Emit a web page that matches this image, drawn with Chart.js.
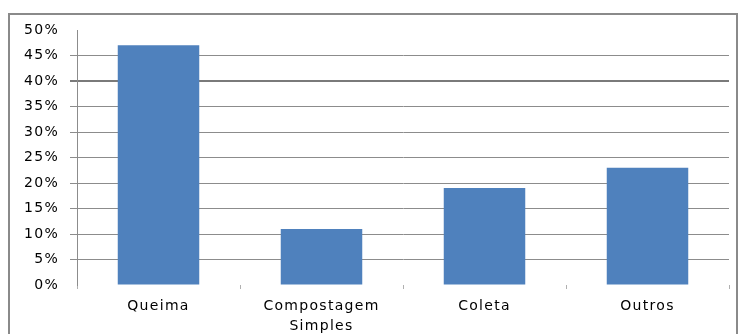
<!DOCTYPE html>
<html lang="pt">
  <head>
    <meta charset="UTF-8" />
    <title>Destino do lixo</title>
    <script src="https://cdn.jsdelivr.net/npm/chart.js"></script>
    <style>
      html, body { margin: 0; padding: 0; background: #fff; }
      #wrap { position: relative; width: 742px; height: 334px; overflow: hidden; }
      #frame {
        position: absolute; left: 8px; top: 13px; width: 730px; height: 340px;
        border: 2px solid #8a8a8a; box-sizing: border-box;
      }
      canvas { position: absolute; left: 0; top: 0; }
    </style>
  </head>
  <body>
    <div id="wrap">
      <div id="frame"></div>
      <canvas id="chart" width="742" height="334"></canvas>
    </div>

    <script>
      const categories = ["Queima", ["Compostagem", "Simples"], "Coleta", "Outros"];
      const values = [47, 11, 19, 23];
      const yTicks = [0, 5, 10, 15, 20, 25, 30, 35, 40, 45, 50];

      // wider text, like the original
      const spacing = {
        id: "spacing",
        beforeDraw(chart) {
          chart.ctx.letterSpacing = "1.3px";
        },
      };

      const ctx = document.getElementById("chart").getContext("2d");
      new Chart(ctx, {
        type: "bar",
        data: {
          labels: categories,
          datasets: [
            {
              data: values,
              backgroundColor: "#4f81bd",
              barPercentage: 1,
              categoryPercentage: 0.5,
            },
          ],
        },
        plugins: [spacing],
        options: {
          responsive: false,
          animation: false,
          layout: { padding: { left: 0, right: 13, top: 30, bottom: 0 } },
          plugins: { legend: { display: false }, tooltip: { enabled: false } },
          scales: {
            y: {
              min: 0,
              max: 50,
              afterFit(scale) { scale.width = 77; },
              afterBuildTicks(scale) { scale.ticks = yTicks.map((v) => ({ value: v })); },
              ticks: {
                color: "#000",
                padding: 11,
                font: { family: "DejaVu Sans", size: 14 },
                callback: (v) => v + "%",
              },
              grid: {
                color: (c) => (c.tick && (c.tick.value === 0 || c.tick.value === 50) ? "rgba(0,0,0,0)" : c.tick && c.tick.value === 40 ? "#7a7a7a" : "#8c8c8c"),
                lineWidth: (c) => (c.tick && c.tick.value === 40 ? 2 : 1),
                tickLength: 7,
              },
              border: { display: true, color: "#8c8c8c" },
            },
            x: {
              afterFit(scale) { scale.height = 49; },
              ticks: {
                color: "#000",
                padding: 8,
                font: { family: "DejaVu Sans", size: 14, lineHeight: 1.4 },
                maxRotation: 0,
              },
              grid: {
                offset: true,
                drawOnChartArea: false,
                drawTicks: true,
                tickLength: 4,
                color: "#b0b0b0",
              },
              border: { display: false },
            },
          },
        },
      });
    </script>
  </body>
</html>
